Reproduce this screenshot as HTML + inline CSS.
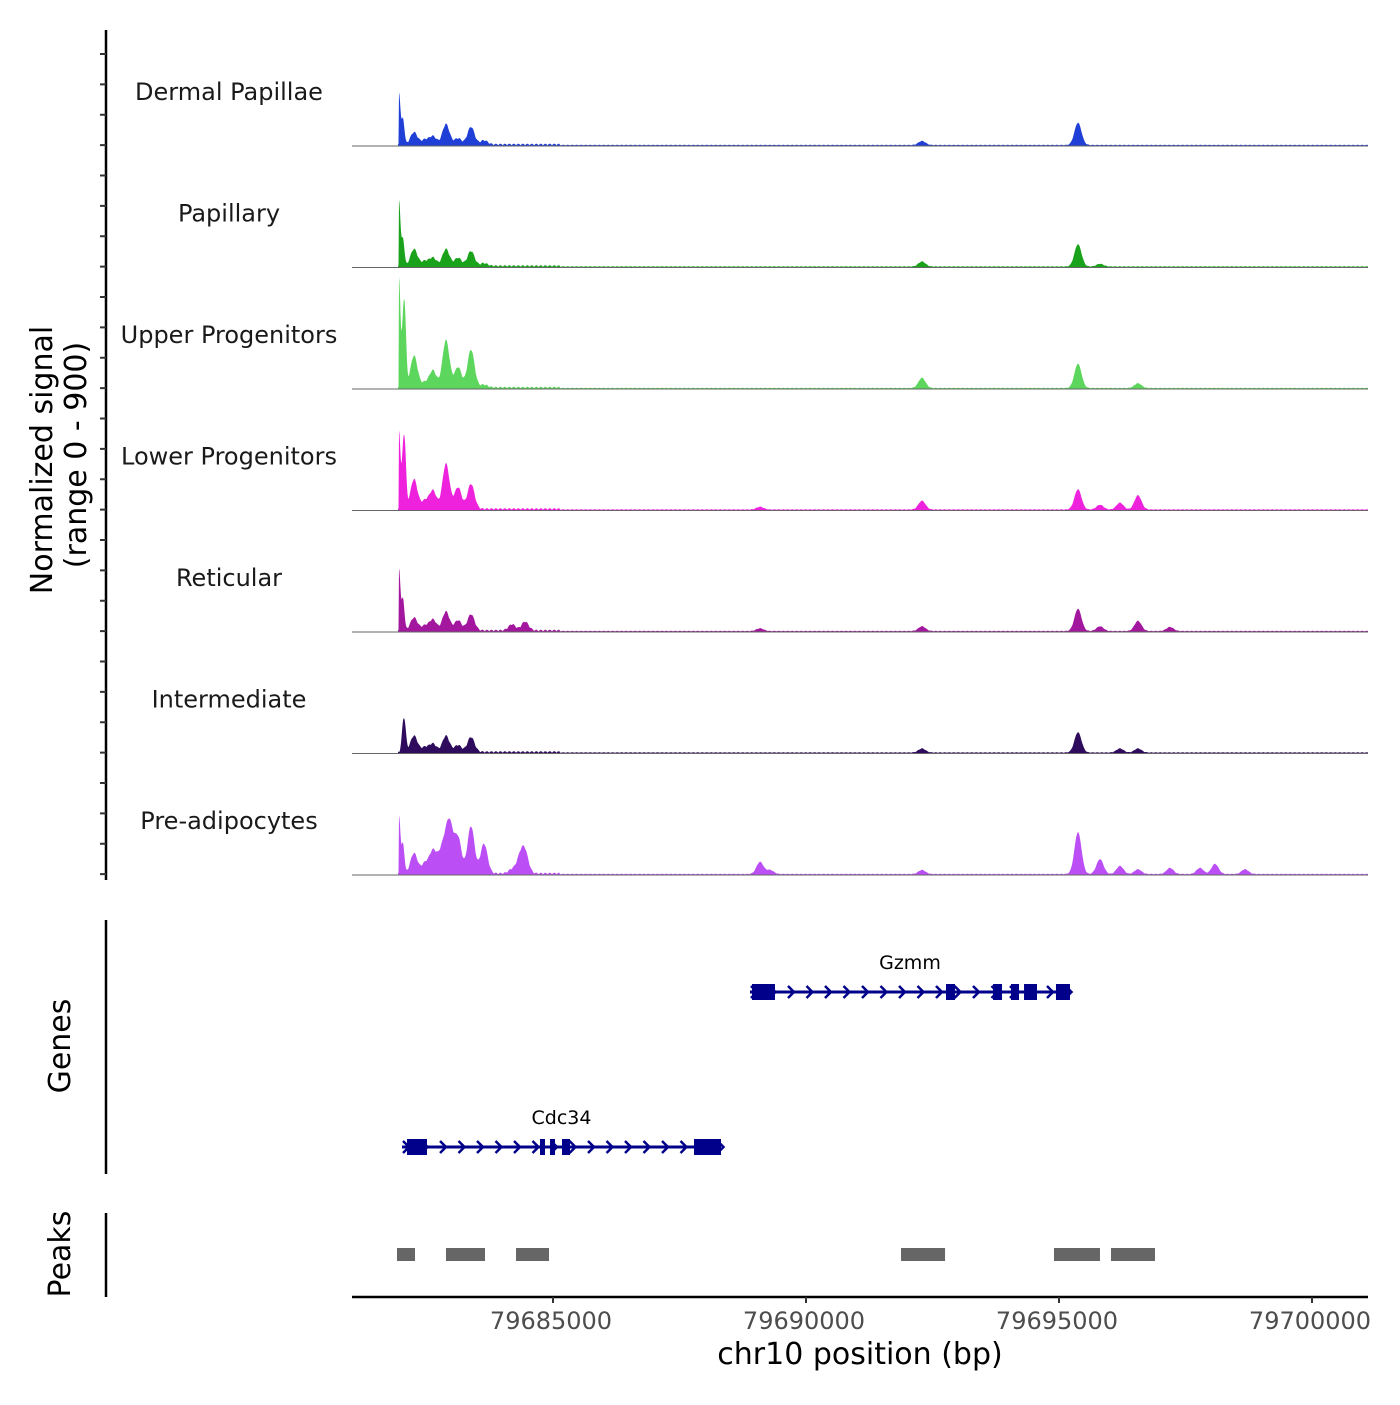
<!DOCTYPE html>
<html><head><meta charset="utf-8"><style>
body{margin:0;background:#fff}
svg text{font-family:"DejaVu Sans","Liberation Sans",sans-serif}
</style></head><body>
<svg id="c" width="1400" height="1400" viewBox="0 0 1400 1400" xmlns="http://www.w3.org/2000/svg"></svg>
<script>
const trackNames=["Dermal Papillae","Papillary","Upper Progenitors","Lower Progenitors","Reticular","Intermediate","Pre-adipocytes"];
const trackColors=["#1f3fd6","#1aa31a","#5cd65c","#ee22dd","#a3179e","#2e0b5c","#bb4ef5"];
// peaks: [position bp, signal value]
const peakPos=[79681957,79682036,79682075,79682253,79682470,79682628,79682885,79683123,79683379,79683636,79684190,79684447,79689091,79692292,79695375,79695810,79696205,79696561,79697193];
const dpVals=[385,190,0,90,35,60,150,45,130,30,0,0,0,30,165,0,0,0,0];
const papVals=[490,200,0,125,35,60,125,60,110,20,0,0,0,37,165,20,0,0,0];
const upVals=[815,400,440,235,35,125,350,150,280,20,0,0,0,75,180,0,0,35,0];
const lowVals=[580,355,355,220,60,135,335,160,185,0,0,0,20,65,150,35,50,105,0];
const retVals=[460,235,0,95,35,80,140,75,120,0,45,65,20,35,165,35,0,75,30];
const intVals=[0,175,150,120,35,60,120,50,110,0,0,0,0,30,150,0,30,30,0];
const preVals=[430,220,0,150,75,165,150,260,350,220,30,150,90,30,310,110,60,35,45];
const seriesVals=[dpVals,papVals,upVals,lowVals,retVals,intVals,preVals];
const preExtraPos=[79682787,79682965,79684348,79689289,79697786,79698083,79698676];
const preExtraVals=[130,300,110,30,45,75,35];
const geneNames=["Gzmm","Cdc34"];
const geneStart=[79688893,79682016];
const geneEnd=[79695217,79688320];
const gzmmExons=[[79688933,79689387],[79692767,79692945],[79693696,79693874],[79694052,79694210],[79694309,79694565],[79694940,79695217]];
const cdc34Exons=[[79682115,79682510],[79684743,79684842],[79684941,79685040],[79685178,79685336],[79687787,79688320]];
const peakRegions=[[79681917,79682273],[79682885,79683656],[79684269,79684921],[79691878,79692748],[79694901,79695810],[79696028,79696897]];
const xTicks=[79685000,79690000,79695000,79700000];

const NS="http://www.w3.org/2000/svg";
const svg=document.getElementById('c');
function el(t,a,p){const e=document.createElementNS(NS,t);for(const k in a)e.setAttribute(k,a[k]);(p||svg).appendChild(e);return e;}
const X=bp=>553+(bp-79685000)*253/5000;
const trackH=121.5, base0=146;
const Y=(v,i)=>base0+i*trackH-v*trackH/900;

const ax=el('line',{x1:106,y1:30,x2:106,y2:880,stroke:'#000','stroke-width':2.5});


for(let y=54;y<=880;y+=trackH/4){const t=el('line',{x1:100,y1:y,x2:106,y2:y,stroke:'#333','stroke-width':2});

}
const yt=el('text',{transform:'translate(52,460) rotate(-90)','text-anchor':'middle','font-size':30});


yt.textContent='Normalized signal';
const yt2=el('text',{transform:'translate(86,455) rotate(-90)','text-anchor':'middle','font-size':30});


yt2.textContent='(range 0 - 900)';

trackNames.forEach((nm,i)=>{
  const base=base0+i*trackH;
  const pos=i==6?peakPos.concat(preExtraPos):peakPos;
  const vals=i==6?seriesVals[i].concat(preExtraVals):seriesVals[i];
  let d='M398,'+base;
  for(let px=398;px<=1368;px+=0.5){
    let v=0;
    pos.forEach((p,k)=>{const c=X(p);const s=k<3?1.4:3.5;const dx=px-c;if(k==0&&dx<-0.5)return;v+=vals[k]*Math.exp(-dx*dx/(2*s*s));});
    v+=5+4*Math.abs(Math.sin(px*0.7))*(px<560?3:1);
    d+=' L'+px+','+Y(Math.min(v,900),i).toFixed(2);
  }
  d+=' L1368,'+base+' Z';
  const a=el('path',{d:d,fill:trackColors[i]});
  
  
  const bl=el('line',{x1:352,y1:base,x2:1368,y2:base,stroke:'#666','stroke-width':1});
  
  
  const lb=el('text',{x:229,y:base-46,'text-anchor':'middle','font-size':24,fill:'#1a1a1a'});
  
  
  lb.textContent=nm;
});

const gax=el('line',{x1:106,y1:920,x2:106,y2:1174,stroke:'#000','stroke-width':2.5});


const gt=el('text',{transform:'translate(70,1046) rotate(-90)','text-anchor':'middle','font-size':30});


gt.textContent='Genes';
const exonSets=[gzmmExons,cdc34Exons];
const geneY=[992,1147];
geneNames.forEach((g,i)=>{
  const y=geneY[i],x1=X(geneStart[i]),x2=X(geneEnd[i]);
  const grp=el('g',{});
  
  
  el('line',{x1:x1,y1:y,x2:x2,y2:y,stroke:'#00008b','stroke-width':3},grp);
  for(let cx=x1+4;cx<x2;cx+=18.5){el('path',{d:`M${cx-3},${y-6} L${cx+3},${y} L${cx-3},${y+6}`,stroke:'#00008b','stroke-width':2.5,fill:'none'},grp);}
  exonSets[i].forEach(e=>el('rect',{x:X(e[0]),y:y-8,width:X(e[1])-X(e[0]),height:16,fill:'#00008b'},grp));
  const t=el('text',{x:(x1+x2)/2,y:y-23,'text-anchor':'middle','font-size':19},grp);
  t.textContent=g;
});

const pax=el('line',{x1:106,y1:1213,x2:106,y2:1297,stroke:'#000','stroke-width':2.5});


const pt=el('text',{transform:'translate(70,1254) rotate(-90)','text-anchor':'middle','font-size':30});


pt.textContent='Peaks';
peakRegions.forEach(r=>{const p=el('rect',{x:X(r[0]),y:1248,width:X(r[1])-X(r[0]),height:13,fill:'#666'});

});

const xa=el('line',{x1:352,y1:1297,x2:1368,y2:1297,stroke:'#000','stroke-width':2.5});


xTicks.forEach(t=>{
  const tk=el('line',{x1:X(t),y1:1297,x2:X(t),y2:1303,stroke:'#333','stroke-width':2});
  
  
  const l=el('text',{x:X(t)-2,y:1329,'text-anchor':'middle','font-size':24,fill:'#4d4d4d'});
  
  
  l.textContent=t;
});
const xt=el('text',{x:860,y:1364,'text-anchor':'middle','font-size':30});


xt.textContent='chr10 position (bp)';
</script>
</body></html>
